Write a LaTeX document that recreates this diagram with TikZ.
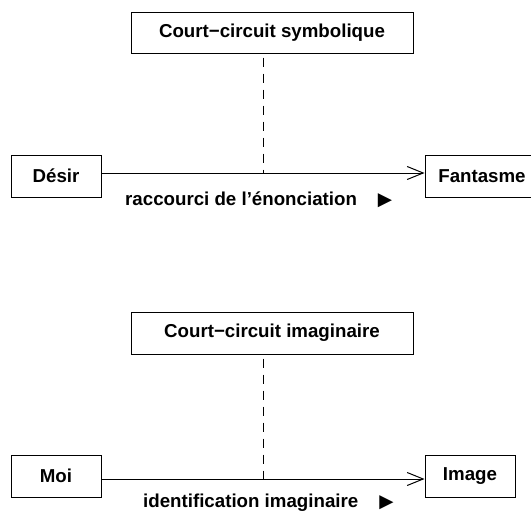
\documentclass[tikz,border=0pt]{standalone}
\usepackage{fontspec}
\setmainfont{Liberation Sans}
\newfontfamily\symfont{DejaVu Sans}
\usetikzlibrary{arrows.meta,calc}
\begin{document}
\begin{tikzpicture}[x=1pt,y=-1pt,
  every node/.style={font=\fontsize{18.7}{22}\selectfont\bfseries},
  box/.style={draw, line width=1pt, inner sep=0pt, minimum height=42pt},
  conn/.style={line width=1pt, -{Straight Barb[length=16pt,width=13pt,line width=1pt]}},
  dashline/.style={line width=1pt, dash pattern=on 9pt off 7pt, dash phase=12pt},
  lab/.style={anchor=base west, inner sep=0pt}]
\useasboundingbox (0,0) rectangle (531,514);
% top diagram
\node[box, minimum width=282pt, minimum height=41pt] (cs) at (272,32.5) {Court−circuit symbolique};
\node[box, minimum width=90pt] (desir) at (56,176) {Désir};
\node[box, minimum width=114pt] (fant) at (482,176) {Fantasme};
\draw[conn] ([yshift=3pt]desir.east) -- coordinate[pos=.5] (m1) ([yshift=3pt]fant.west);
\draw[dashline] (m1 |- cs.south) -- (m1);
\node[lab] (l1) at (125,205) {raccourci de l’énonciation\hspace{21pt}{\symfont\fontsize{18.5}{22}\selectfont ▶}};
% bottom diagram
\node[box] [minimum width=282pt] (ci) at (272,333) {Court−circuit imaginaire};
\node[box, minimum width=90pt] (moi) at (56,476) {Moi};
\node[box, minimum width=90pt] (img) at (470,476) {Image};
\draw[conn] ([yshift=-3pt]moi.east) -- coordinate[pos=.5] (m2) ([yshift=-3pt]img.west);
\draw[dashline] (m2 |- ci.south) -- (m2);
\node[lab] (l2) at (143,507) {identification imaginaire\hspace{21pt}{\symfont\fontsize{18.5}{22}\selectfont ▶}};
\end{tikzpicture}
\end{document}
